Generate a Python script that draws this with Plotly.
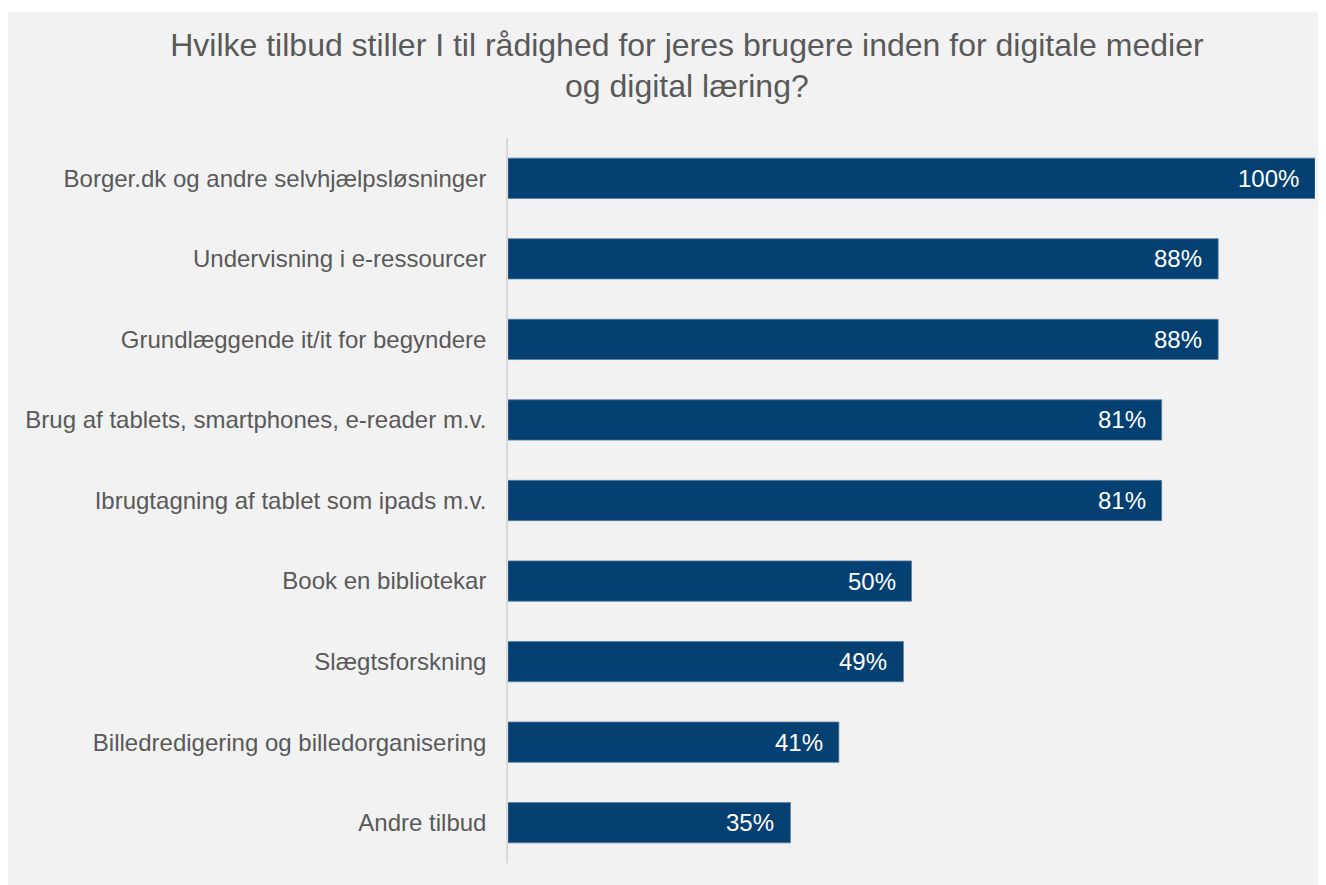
import plotly.graph_objects as go

categories = [
    "Borger.dk og andre selvhjælpsløsninger",
    "Undervisning i e-ressourcer",
    "Grundlæggende it/it for begyndere",
    "Brug af tablets, smartphones, e-reader m.v.",
    "Ibrugtagning af tablet som ipads m.v.",
    "Book en bibliotekar",
    "Slægtsforskning",
    "Billedredigering og billedorganisering",
    "Andre tilbud",
]
values = [100, 88, 88, 81, 81, 50, 49, 41, 35]
value_labels = ["100%", "88%", "88%", "81%", "81%", "50%", "49%", "41%", "35%"]
title_text = ("Hvilke tilbud stiller I til rådighed for jeres brugere inden for digitale medier"
              "<br>og digital læring?")

FONT = "Liberation Sans, Arial, sans-serif"
BAR = "#044072"
GREY_TXT = "#595959"
BG = "#f2f2f2"

fig = go.Figure()
fig.add_trace(go.Bar(
    x=values, y=categories, orientation="h",
    marker=dict(color=BAR, line=dict(color="#5a7ea3", width=0.8)),
    textposition="none", hoverinfo="skip",
))

for c, v, t in zip(categories, values, value_labels):
    fig.add_annotation(x=v, y=c, xref="x", yref="y", text=t, showarrow=False,
                       xanchor="right", xshift=-14,
                       font=dict(family=FONT, size=24, color="white"))

# thin white strip along the top edge of the figure
fig.add_shape(type="rect", xref="paper", yref="paper",
              x0=-0.7, x1=1.1, y0=1.1746, y1=1.3,
              fillcolor="white", line=dict(width=0), layer="below")

fig.update_layout(
    width=1326, height=885,
    margin=dict(l=500, r=19, t=130, b=30),
    paper_bgcolor=BG,
    plot_bgcolor="rgba(0,0,0,0)",
    bargap=0.5,
    showlegend=False,
    font=dict(family=FONT, color=GREY_TXT),
    title=dict(text=title_text, xref="container", yref="container",
               x=0.512, xanchor="center", y=0.946, yanchor="top",
               font=dict(family=FONT, size=32, color=GREY_TXT)),
    xaxis=dict(range=[0, 100], visible=False, fixedrange=True),
    yaxis=dict(autorange="reversed", showgrid=False, zeroline=False,
               showline=True, linecolor="#d9d9d9", linewidth=1.5,
               ticks="", ticklabelstandoff=15,
               tickfont=dict(family=FONT, size=24, color=GREY_TXT)),
)

fig.write_html("out.html")
